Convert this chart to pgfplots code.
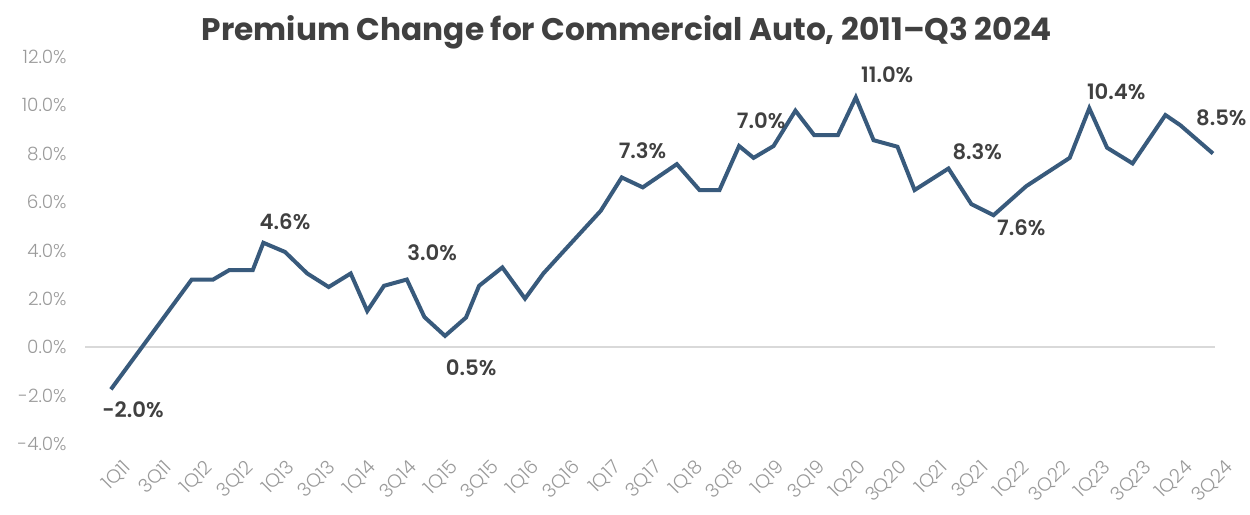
\documentclass[border=0pt]{standalone}
\usepackage{fontspec}
\setmainfont{Poppins}
\newfontfamily\lightfont{Poppins Light}
\newfontfamily\semifont{Poppins SemiBold}
\usepackage{pgfplots}
\pgfplotsset{compat=1.18}

\definecolor{linec}{HTML}{385A7C}
\definecolor{tickc}{HTML}{9A9A9A}
\definecolor{labc}{HTML}{404040}
\definecolor{zeroc}{HTML}{D9D9D9}

\begin{document}
\begin{tikzpicture}
\begin{axis}[
    scale only axis,
    width=565pt, height=193.5pt,
    xmin=-1.27, xmax=54.1,
    ymin=-4, ymax=12,
    clip=false,
    axis line style={draw=none},
    tick style={draw=none},
    xtick={0,2,...,54},
    xticklabels={1Q11,3Q11,1Q12,3Q12,1Q13,3Q13,1Q14,3Q14,1Q15,3Q15,1Q16,3Q16,1Q17,3Q17,
                 1Q18,3Q18,1Q19,3Q19,1Q20,3Q20,1Q21,3Q21,1Q22,3Q22,1Q23,3Q23,1Q24,3Q24},
    ytick={-4,-2,...,12},
    yticklabels={-4.0\%,-2.0\%,0.0\%,2.0\%,4.0\%,6.0\%,8.0\%,10.0\%,12.0\%},
    xticklabel style={rotate=45, anchor=north east, inner sep=0pt, yshift=-9pt, xshift=-1pt,
                      text=tickc, font=\lightfont\fontsize{9.5}{10}\selectfont},
    yticklabel style={anchor=east, inner sep=0pt, xshift=-9pt,
                      text=tickc, font=\lightfont\fontsize{9.2}{10}\selectfont},
    extra y ticks={0},
    extra y tick labels={},
    extra y tick style={grid=major, major grid style={draw=zeroc, line width=1.2pt}},
]
% premium change (x in quarters from 1Q11)
\addplot[linec, line width=2pt] coordinates {
(0,-1.74) (3.96,2.80) (5.01,2.80) (5.80,3.19) (6.95,3.19) (7.47,4.32)
(8.53,3.94) (9.62,3.05) (10.67,2.49) (11.75,3.05) (12.56,1.50) (13.38,2.54)
(14.50,2.80) (15.36,1.25) (16.37,0.47) (17.40,1.23) (18.04,2.54) (19.18,3.30)
(20.29,2.01) (21.19,3.05) (22.01,3.81) (24.00,5.64) (25.03,7.02) (26.06,6.61)
(27.73,7.57) (28.84,6.50) (29.82,6.50) (30.78,8.32) (31.49,7.83) (32.47,8.32)
(33.54,9.78) (34.46,8.77) (35.62,8.77) (36.50,10.33) (37.37,8.56) (38.54,8.29)
(39.38,6.50) (41.04,7.39) (42.16,5.92) (43.25,5.46) (44.85,6.66) (46.98,7.83)
(47.94,9.88) (48.81,8.25) (50.06,7.60) (51.67,9.60) (52.40,9.18) (54.00,8.01)
};

\tikzset{lab/.style={font=\semifont\fontsize{10.6}{12}\selectfont, text=labc}}
\node[lab] at (axis cs:1.08,-2.57) {-2.0\%};
\node[lab] at (axis cs:8.53,5.21) {4.6\%};
\node[lab] at (axis cs:15.74,3.89) {3.0\%};
\node[lab] at (axis cs:17.65,-0.83) {0.5\%};
\node[lab] at (axis cs:26.05,8.11) {7.3\%};
\node[lab] at (axis cs:31.86,9.35) {7.0\%};
\node[lab] at (axis cs:38.04,11.25) {11.0\%};
\node[lab] at (axis cs:42.45,8.07) {8.3\%};
\node[lab] at (axis cs:44.61,4.96) {7.6\%};
\node[lab] at (axis cs:49.26,10.55) {10.4\%};
\node[lab] at (axis cs:54.41,9.47) {8.5\%};

\node[font=\fontsize{15.6}{18}\selectfont\bfseries, text=labc]
    at (rel axis cs:0.4796,1.064) {Premium Change for Commercial Auto, 2011–Q3 2024};
\end{axis}
\pgfresetboundingbox
\path[use as bounding box] (current axis.south west) ++(-42.5pt,-35pt)
    rectangle ([shift={(17.5pt,28.5pt)}]current axis.north east);
\end{tikzpicture}
\end{document}
